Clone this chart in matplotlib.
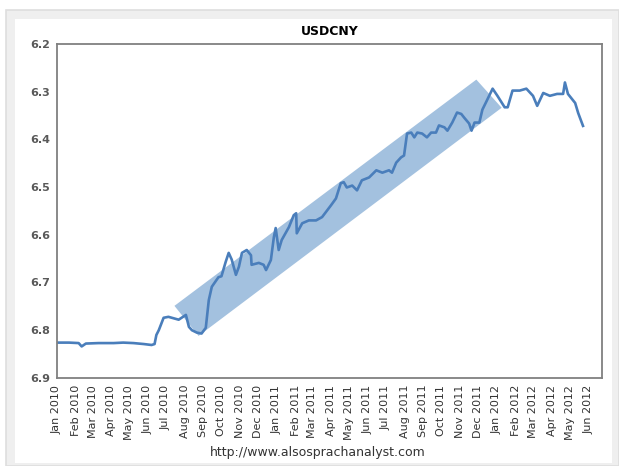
import matplotlib
matplotlib.use("Agg")
import matplotlib.pyplot as plt
import matplotlib.dates as mdates
from matplotlib.patches import Polygon, Rectangle
import pandas as pd

# USDCNY fixing
dates = [
    "2010-01-01", "2010-01-21", "2010-02-06", "2010-02-11", "2010-02-18", "2010-03-11",
    "2010-04-05", "2010-04-21", "2010-05-08", "2010-05-25", "2010-06-07", "2010-06-12",
    "2010-06-15", "2010-06-19", "2010-06-27", "2010-07-05", "2010-07-22", "2010-08-03",
    "2010-08-08", "2010-08-13", "2010-08-21", "2010-08-29", "2010-09-05", "2010-09-10",
    "2010-09-15", "2010-09-26", "2010-10-01", "2010-10-08", "2010-10-13", "2010-10-18",
    "2010-10-25", "2010-10-30", "2010-11-04", "2010-11-12", "2010-11-19", "2010-11-20",
    "2010-12-02", "2010-12-10", "2010-12-14", "2010-12-22", "2010-12-27", "2010-12-30",
    "2011-01-04", "2011-01-09", "2011-01-21", "2011-01-29", "2011-02-02", "2011-02-03",
    "2011-02-12", "2011-02-23", "2011-03-07", "2011-03-17", "2011-03-23", "2011-04-01",
    "2011-04-09", "2011-04-17", "2011-04-22", "2011-04-27", "2011-05-06", "2011-05-14",
    "2011-05-22", "2011-06-03", "2011-06-15", "2011-06-25", "2011-07-06", "2011-07-11",
    "2011-07-18", "2011-07-26", "2011-07-31", "2011-08-05", "2011-08-12", "2011-08-17",
    "2011-08-22", "2011-08-30", "2011-09-07", "2011-09-14", "2011-09-22", "2011-09-27",
    "2011-10-06", "2011-10-11", "2011-10-19", "2011-10-27", "2011-11-03", "2011-11-08",
    "2011-11-16", "2011-11-20", "2011-11-25", "2011-12-03", "2011-12-08", "2011-12-15",
    "2011-12-25", "2012-01-02", "2012-01-14", "2012-01-19", "2012-01-27", "2012-02-08",
    "2012-02-19", "2012-03-01", "2012-03-08", "2012-03-18", "2012-03-29", "2012-04-10",
    "2012-04-20", "2012-04-23", "2012-04-28", "2012-05-10", "2012-05-15", "2012-05-23",
]
rates = [
    6.826, 6.826, 6.827, 6.834, 6.828, 6.827,
    6.827, 6.826, 6.827, 6.829, 6.831, 6.829,
    6.810, 6.800, 6.774, 6.772, 6.778, 6.768,
    6.793, 6.800, 6.805, 6.807, 6.795, 6.737,
    6.709, 6.689, 6.687, 6.657, 6.638, 6.652,
    6.684, 6.667, 6.638, 6.632, 6.643, 6.663,
    6.659, 6.663, 6.674, 6.653, 6.605, 6.586,
    6.632, 6.611, 6.584, 6.559, 6.555, 6.597,
    6.576, 6.570, 6.570, 6.563, 6.553, 6.538,
    6.524, 6.492, 6.490, 6.501, 6.497, 6.507,
    6.486, 6.480, 6.465, 6.470, 6.465, 6.470,
    6.449, 6.438, 6.434, 6.388, 6.386, 6.396,
    6.386, 6.388, 6.396, 6.386, 6.386, 6.371,
    6.375, 6.382, 6.365, 6.344, 6.347, 6.355,
    6.367, 6.382, 6.365, 6.365, 6.338, 6.320,
    6.294, 6.309, 6.333, 6.333, 6.298, 6.298,
    6.294, 6.309, 6.330, 6.303, 6.309, 6.305,
    6.305, 6.281, 6.305, 6.324, 6.345, 6.372,
]

# trend channel corners
band_dates = ["2010-07-15", "2011-11-28", "2012-01-09", "2010-08-24"]
band_rates = [6.749, 6.275, 6.334, 6.812]

tick_months = pd.date_range("2010-01-01", "2012-06-01", freq="MS")
yticks = [6.2, 6.3, 6.4, 6.5, 6.6, 6.7, 6.8, 6.9]

x = mdates.date2num(pd.to_datetime(dates))
bx = mdates.date2num(pd.to_datetime(band_dates))

fig = plt.figure(figsize=(6.19, 4.66), dpi=100)
fig.patch.set_facecolor("white")
# grey outer frame and white inner panel, like the pasted Excel chart
outer = Rectangle((0.0097, 0.0), 0.99, 0.9785, transform=fig.transFigure,
                  facecolor="#efefef", edgecolor="#dedede", linewidth=1.2, zorder=-20)
inner = Rectangle((0.0242, 0.0064), 0.9645, 0.9528, transform=fig.transFigure,
                  facecolor="white", edgecolor="none", zorder=-10)
fig.patches.extend([outer, inner])

ax = fig.add_axes([0.092, 0.189, 0.881, 0.717])
ax.set_facecolor("white")

ax.add_patch(Polygon(list(zip(bx, band_rates)), closed=True, facecolor="#a3c1df",
                     edgecolor="none", zorder=1))
ax.plot(x, rates, color="#4a7ebb", linewidth=1.9, zorder=2)

ax.set_ylim(6.9, 6.2)
ax.set_yticks(yticks)
ax.set_yticklabels(["%.1f" % v for v in yticks], fontsize=8, fontweight="bold", color="#595959")

ax.set_xlim(mdates.date2num(pd.Timestamp("2010-01-01")), mdates.date2num(pd.Timestamp("2012-06-24")))
ax.set_xticks(mdates.date2num(tick_months))
ax.set_xticklabels([d.strftime("%b %Y") for d in tick_months], rotation=90,
                   fontsize=8, color="#333333")
ax.tick_params(axis="both", length=0, pad=5)

for s in ax.spines.values():
    s.set_color("#808080")
    s.set_linewidth(1.3)

ax.set_title("USDCNY", fontsize=9, fontweight="bold", pad=6)
fig.text(0.513, 0.03, "http://www.alsosprachanalyst.com", ha="center", va="center",
         fontsize=9, color="#333333")

fig.savefig("out.png", dpi=100)
